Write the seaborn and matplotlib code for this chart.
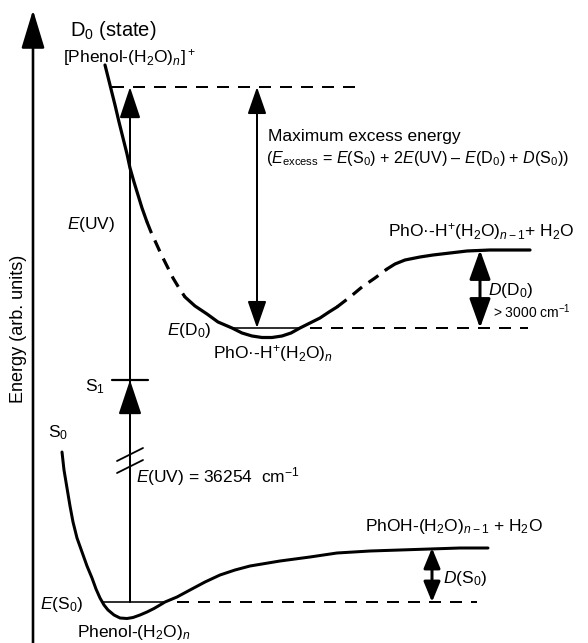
import matplotlib
matplotlib.use("Agg")
import matplotlib.pyplot as plt
import seaborn as sns
import pandas as pd
import numpy as np

# ---------------- data (schematic; y grows downward) -------------
# S0 potential curve
s0_x = [62, 64, 67, 70, 73, 77, 82, 87, 92, 96, 100, 104, 108, 114, 120, 127, 133, 140,
        147, 154, 160, 165, 177, 190, 205, 220, 235, 250, 280, 310, 337, 370, 400, 430, 460, 488]
s0_y = [452, 470, 488, 506, 522, 538, 552, 566, 578, 589, 598, 605, 610, 615, 618, 618.5, 617.5, 615,
        612, 608.5, 605, 602, 597, 590, 582, 575, 570, 566, 561, 557, 553, 551, 550, 549, 548, 548]

# D0 potential curve, split in solid / dashed parts
d0_seg = ["A"] * 11 + ["B"] * 8 + ["C"] * 18 + ["D"] * 5 + ["E"] * 10
d0_x = [105, 110, 115, 119, 123, 127, 130, 134, 138, 142, 147,
        147, 151, 156, 161, 167, 173, 179, 185,
        185, 195, 207, 218, 232, 242, 252, 262, 272, 282, 291, 300, 310, 320, 329, 337, 337, 337,
        337, 350, 362, 375, 387,
        387, 395, 405, 420, 433, 450, 467, 490, 510, 530]
d0_y = [65, 85, 105, 122, 138, 154, 168, 182, 195, 208, 222,
        222, 232, 243, 254, 266, 278, 288, 297,
        297, 306, 314, 322, 328, 333, 336, 337.5, 337.5, 336, 333, 328, 323, 318, 312, 307, 307, 307,
        307, 297, 287, 278, 269,
        269, 264, 260, 257, 255, 253, 251, 250, 250, 250]
d0_style = {"A": "solid", "B": "dashed", "C": "solid", "D": "dashed", "E": "solid"}

# energy levels
lvl_s0 = 602          # E(S0)
lvl_s0_asym = 548     # S0 dissociation limit
lvl_s1 = 380          # S1
lvl_d0 = 328          # E(D0)
lvl_d0_asym = 250     # D0 dissociation limit
lvl_top = 87          # E(S0) + 2E(UV)

x_uv = 130
x_excess = 257
x_dd0 = 480
x_ds0 = 432
x_axis = 33

# --------------------------------------------------------------------------------------
sns.set_theme(style="white")
plt.rcParams["font.family"] = ["Liberation Sans", "DejaVu Sans"]
plt.rcParams["mathtext.fontset"] = "custom"
plt.rcParams["mathtext.rm"] = "Liberation Sans"
plt.rcParams["mathtext.it"] = "Liberation Sans:italic"
plt.rcParams["mathtext.bf"] = "Liberation Sans:bold"

fig = plt.figure(figsize=(5.88, 6.43), dpi=100)
ax = fig.add_axes([0, 0, 1, 1])
ax.set_xlim(0, 588)
ax.set_ylim(643, 0)
ax.axis("off")

K = "black"
PX = 72 / 100.0  # points per pixel

# curves
s0_df = pd.DataFrame({"x": s0_x, "y": s0_y})
sns.lineplot(data=s0_df, x="x", y="y", sort=False, estimator=None, color=K,
             lw=3 * PX, ax=ax, legend=False)

d0_df = pd.DataFrame({"x": d0_x, "y": d0_y, "seg": d0_seg})
curve_lw = 3.2 * PX
for seg, sub in d0_df.groupby("seg"):
    ls = "-" if d0_style[seg] == "solid" else (0, (12 * PX / curve_lw, 8 * PX / curve_lw))
    sns.lineplot(data=sub, x="x", y="y", sort=False, estimator=None, color=K,
                 lw=curve_lw, linestyle=ls, ax=ax, legend=False)

# horizontal level lines (solid short ones)
lev_lw = 1.6 * PX
ax.plot([102, 165], [lvl_s0, lvl_s0], color=K, lw=lev_lw)
ax.plot([232, 300], [lvl_d0, lvl_d0], color=K, lw=lev_lw)
ax.plot([112, 148], [lvl_s1, lvl_s1], color=K, lw=2.2 * PX)

# dashed reference lines
dash_lw = 2.0 * PX
dls = (0, (12 * PX / dash_lw, 9 * PX / dash_lw))
ax.plot([112, 358], [lvl_top, lvl_top], color=K, lw=dash_lw, linestyle=dls)
ax.plot([310, 528], [lvl_d0, lvl_d0], color=K, lw=dash_lw, linestyle=dls)
ax.plot([177, 477], [lvl_s0, lvl_s0], color=K, lw=dash_lw, linestyle=dls)


def arrow(x0, y0, x1, y1, hl, hw, lw, style="-|>"):
    ax.annotate("", xy=(x1, y1), xytext=(x0, y0),
                arrowprops=dict(arrowstyle=f"{style},head_length={hl * PX},head_width={hw * PX}",
                                lw=lw * PX, color=K, shrinkA=0, shrinkB=0, mutation_scale=1))


# energy axis
arrow(x_axis, 643, x_axis, 10, 33, 10, 2.6)
# UV excitation
arrow(x_uv, lvl_s0, x_uv, lvl_top, 27, 9, 2.0)
arrow(x_uv, 425, x_uv, lvl_s1, 30, 10, 2.0)
# axis break marks
ax.plot([117, 143], [461, 448], color=K, lw=1.8 * PX)
ax.plot([117, 143], [473, 460], color=K, lw=1.8 * PX)
# excess energy double arrow
arrow(x_excess, lvl_d0, x_excess, lvl_top, 23, 8, 2.0, "<|-|>")
# D(D0)
arrow(x_dd0, lvl_d0, x_dd0, lvl_d0_asym, 25, 9, 3.0, "<|-|>")
# D(S0)
arrow(x_ds0, lvl_s0, x_ds0, lvl_s0_asym, 17, 7, 3.0, "<|-|>")

# ------------------------------------ texts --------------------------------------------
fs = 12.5


def txt(x, y, s, size=fs, **kw):
    ax.text(x, y, s, fontsize=size, ha=kw.pop("ha", "left"), va=kw.pop("va", "center"),
            color=K, **kw)


txt(70, 30, r"D$_0$ (state)", size=14.5)
txt(63, 58, r"[Phenol-(H$_2$O)$_n$]$^+$")
txt(67, 224, r"$E$(UV)")
txt(268, 137, "Maximum excess energy")
txt(266, 158, r"($E_{\mathrm{excess}}$ = $E$(S$_0$) + 2$E$(UV) – $E$(D$_0$) + $D$(S$_0$))", size=11.6)
txt(388, 232, r"PhO·-H$^{+}$(H$_2$O)$_{n-1}$+ H$_2$O")
txt(488, 290, r"$D$(D$_0$)")
txt(493, 312, r"> 3000 cm$^{-1}$", size=10)
txt(167, 331, r"$E$(D$_0$)")
txt(213, 353, r"PhO·-H$^{+}$(H$_2$O)$_n$")
txt(85, 387, r"S$_1$")
txt(48, 433, r"S$_0$")
txt(136, 477, r"$E$(UV) = 36254  cm$^{-1}$")
txt(365, 527, r"PhOH-(H$_2$O)$_{n-1}$ + H$_2$O")
txt(443, 578, r"$D$(S$_0$)")
txt(40, 605, r"$E$(S$_0$)")
txt(77, 633, r"Phenol-(H$_2$O)$_n$")
txt(19, 329, "Energy (arb. units)", size=13, ha="center", rotation=90)

fig.savefig("out.png", dpi=100)
